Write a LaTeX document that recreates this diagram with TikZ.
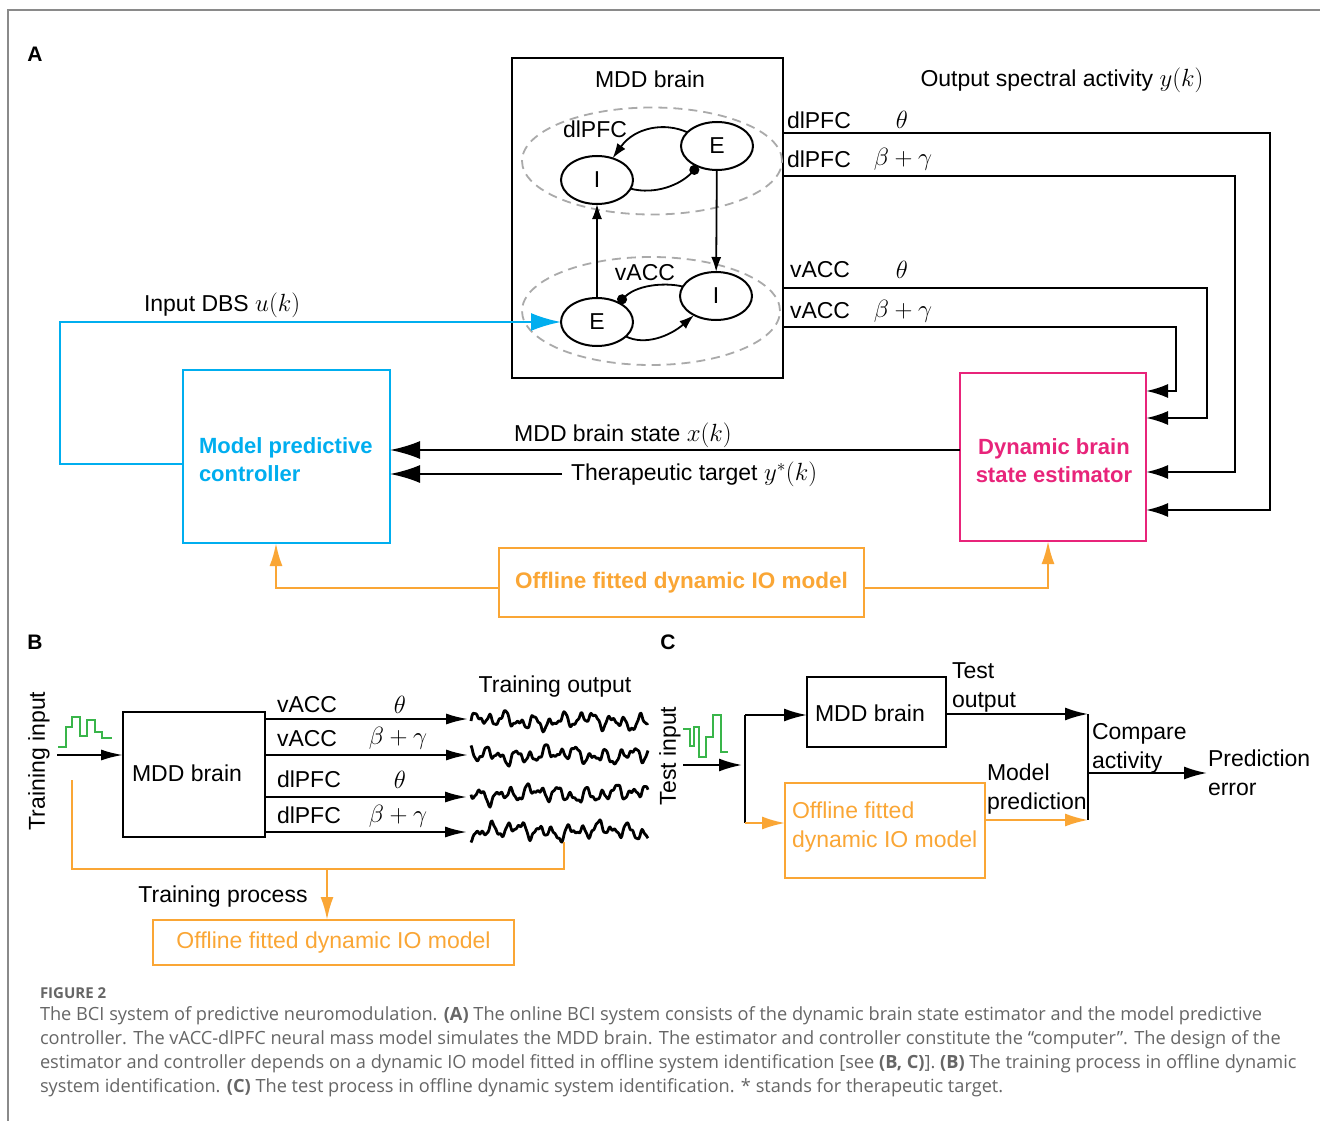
\documentclass[tikz,border=0pt]{standalone}
\usepackage[no-math]{fontspec}
\setmainfont{Liberation Sans}
\newfontfamily\capfont{Open Sans}
\usetikzlibrary{arrows.meta,shapes.geometric,calc}
\definecolor{mpcblue}{HTML}{00AEEF}
\definecolor{estpink}{HTML}{E8247A}
\definecolor{offorange}{HTML}{FAA635}
\definecolor{siggreen}{HTML}{39B54A}
\definecolor{dashgray}{HTML}{AAAAAA}
\definecolor{capgray}{HTML}{666666}
\definecolor{framegray}{HTML}{8A8A8A}
\begin{document}
\begin{tikzpicture}[x=1pt,y=-1pt,
  every node/.style={inner sep=0pt, outer sep=0pt},
  lbl/.style={font=\fontsize{23}{29}\selectfont},
  boldlbl/.style={font=\fontsize{22}{28}\selectfont\bfseries},
  panel/.style={font=\fontsize{21}{23}\selectfont\bfseries},
  blkbox/.style={draw=black, line width=2.3pt, anchor=north west},
  mpcbox/.style={draw=mpcblue, line width=2.5pt, anchor=north west},
  estbox/.style={draw=estpink, line width=2.5pt, anchor=north west},
  offbox/.style={draw=offorange, line width=2.5pt, anchor=north west},
  dashell/.style={ellipse, draw=dashgray, line width=1.8pt, dash pattern=on 9pt off 6pt},
  popell/.style={ellipse, draw=black, line width=2pt, minimum width=72pt, minimum height=48pt, font=\fontsize{23}{28}\selectfont},
  inarrow/.style={draw=black, line width=1.8pt, -{Latex[length=15pt,width=10pt]}},
  indot/.style={draw=black, line width=1.8pt, -{Circle[length=10pt]}},
  estarrow/.style={draw=black, line width=2.3pt, -{Latex[length=22pt,width=14pt]}},
  ctrlarrow/.style={draw=black, line width=2.3pt, -{Latex[length=30pt,width=18pt]}},
  dbsarrow/.style={draw=mpcblue, line width=2.5pt, -{Latex[length=30pt,width=18pt]}},
  oarrow/.style={draw=offorange, line width=2.5pt, -{Latex[length=23pt,width=13pt]}},
  oline/.style={draw=offorange, line width=2.5pt},
  barrow/.style={draw=black, line width=2pt, -{Latex[length=22pt,width=11pt]}},
  carrow/.style={draw=black, line width=2pt, -{Latex[length=23pt,width=13pt]}},
  cline/.style={draw=black, line width=2pt},
  coarrow/.style={draw=offorange, line width=2pt, -{Latex[length=23pt,width=13pt]}},
  wave/.style={draw=black, line width=2.8pt, line join=round},
  sig/.style={draw=siggreen, line width=1.6pt},
  captxt/.style={font=\capfont\fontsize{18.2}{20}\selectfont, text=capgray, anchor=west}
]
\useasboundingbox (0,0) rectangle (1320,1121);
\fill[white] (0,0) rectangle (1320,1121);
\draw[framegray, line width=1.5pt] (8,1121) -- (8,10) -- (1320,10);

% ===== Panel A =====
\node[panel] (pA) at (35,54) {A};
\node[blkbox, minimum width=271pt, minimum height=320pt] (brain) at (512,58) {};
\node[lbl] (brainlbl) at (650,79) {MDD brain};
\node[dashell, minimum width=260pt, minimum height=107pt] (dlpfc) at (652,161) {};
\node[dashell, minimum width=258pt, minimum height=108pt] (vacc) at (651,311) {};
\node[lbl] (dlpfclbl) at (595,129) {dlPFC};
\node[lbl] (vacclbl) at (645,273) {vACC};
\node[popell] (dI) at (597,180) {I};
\node[popell] (dE) at (717,146) {E};
\node[popell] (vE) at (597,322) {E};
\node[popell] (vI) at (716,296) {I};
\draw[inarrow] (dE) .. controls (665,122) and (635,127) .. (dI);
\draw[indot] (dI) .. controls (655,195) and (680,185) .. (dE);
\draw[indot] (vI) .. controls (670,283) and (640,283) .. (vE);
\draw[inarrow] (vE) .. controls (645,346) and (670,336) .. (vI);
\draw[inarrow] (vE) -- (dI);
\draw[inarrow] (dE) -- (vI);

\node[mpcbox, minimum width=207pt, minimum height=173pt] (mpc) at (183,370) {};
\node[boldlbl, text=mpcblue, anchor=west, align=left] (mpclbl) at (199,460) {Model predictive\\controller};
\node[estbox, minimum width=186pt, minimum height=168pt] (est) at (960,373) {};
\node[boldlbl, text=estpink, align=center] (estlbl) at (1054,461) {Dynamic brain\\state estimator};
\node[offbox, minimum width=365pt, minimum height=69pt, boldlbl, font=\fontsize{22.5}{28}\selectfont\bfseries, text=offorange] (off) at (499,548) {Offline fitted dynamic IO model};

% DBS input
\coordinate (bl1) at (60,464);
\coordinate (bl2) at (60,322);
\draw[dbsarrow] (mpc.west |- bl1) -- (bl1) -- (bl2) -- (vE);
\node[lbl, anchor=west] (dbslbl) at (144,305) {Input DBS $u(k)$};

% outputs
\node[lbl] (outlbl) at (1062,80) {Output spectral activity $y(k)$};
\coordinate (r1) at (1270,133); \coordinate (r1b) at (1270,510);
\coordinate (r2) at (1235,176); \coordinate (r2b) at (1235,472);
\coordinate (r3) at (1207,288); \coordinate (r3b) at (1207,418);
\coordinate (r4) at (1176,327); \coordinate (r4b) at (1176,391);
\draw[estarrow] (brain.east |- r1) -- (r1) -- (r1b) -- (est.east |- r1b);
\draw[estarrow] (brain.east |- r2) -- (r2) -- (r2b) -- (est.east |- r2b);
\draw[estarrow] (brain.east |- r3) -- (r3) -- (r3b) -- (est.east |- r3b);
\draw[estarrow] (brain.east |- r4) -- (r4) -- (r4b) -- (est.east |- r4b);
\node[lbl, anchor=west] (o1a) at (787,120) {dlPFC};
\node[lbl] (o1b) at (902,120) {$\theta$};
\node[lbl, anchor=west] (o2a) at (787,159) {dlPFC};
\node[lbl] (o2b) at (903,159) {$\beta+\gamma$};
\node[lbl, anchor=west] (o3a) at (790,270) {vACC};
\node[lbl] (o3b) at (902,270) {$\theta$};
\node[lbl, anchor=west] (o4a) at (790,311) {vACC};
\node[lbl] (o4b) at (903,311) {$\beta+\gamma$};

% state and target
\coordinate (sy) at (700,450);
\draw[ctrlarrow] (est.west |- sy) -- (mpc.east |- sy);
\node[lbl] (statelbl) at (623,435) {MDD brain state $x(k)$};
\node[lbl, anchor=west] (tt) at (571,474) {Therapeutic target $y^*(k)$};
\draw[ctrlarrow] ([xshift=-9pt]tt.west) -- (mpc.east |- tt.west);

% offline model links
\coordinate (oa) at (276,588);
\coordinate (ob) at (1048,588);
\draw[oarrow] (off.west |- oa) -- (oa) -- (oa |- mpc.south);
\draw[oarrow] (off.east |- ob) -- (ob) -- (ob |- est.south);

% ===== Panel B =====
\node[panel] (pB) at (35,642) {B};
\node[blkbox, minimum width=142pt, minimum height=125pt] (bbrain) at (123,712) {};
\node[lbl] (bbrainlbl) at (187,773) {MDD brain};
\node[lbl, rotate=90] (tinlbl) at (39,761) {Training input};
\draw[sig] (58,747) -- (66,747) -- (66,727) -- (72,727) -- (72,717) -- (80,717) -- (80,736) -- (87,736) -- (87,720) -- (95,720) -- (95,732) -- (102,732) -- (102,738) -- (112,738);
\coordinate (tin) at (57,755);
\draw[barrow] (tin) -- (bbrain.west |- tin);
\coordinate (w1) at (468,719);
\coordinate (w2) at (468,755);
\coordinate (w3) at (467,797);
\coordinate (w4) at (467,832);
\draw[barrow] (bbrain.east |- w1) -- (w1);
\draw[barrow] (bbrain.east |- w2) -- (w2);
\draw[barrow] (bbrain.east |- w3) -- (w3);
\draw[barrow] (bbrain.east |- w4) -- (w4);
\node[lbl, anchor=west] (b1a) at (277,705) {vACC};
\node[lbl] (b1b) at (400,705) {$\theta$};
\node[lbl, anchor=west] (b2a) at (277,739) {vACC};
\node[lbl] (b2b) at (398,738) {$\beta+\gamma$};
\node[lbl, anchor=west] (b3a) at (277,779) {dlPFC};
\node[lbl] (b3b) at (400,780) {$\theta$};
\node[lbl, anchor=west] (b4a) at (277,815) {dlPFC};
\node[lbl] (b4b) at (398,816) {$\beta+\gamma$};
\node[lbl] (toutlbl) at (555,687) {Training output};
\foreach \yy/\pp in {721/0, 755/95, 794/190, 831/285} {
  \draw[wave] plot[domain=0:177, samples=178] ({471+\x},{\yy - 4.6*sin(24*\x+\pp) - 3.3*sin(13*\x+2*\pp) - 2*sin(43*\x+\pp) - 1.1*sin(79*\x+\pp) - 2.5*sin(4*\x+\pp)});
}
\coordinate (ob1) at (72,780);
\coordinate (ob2) at (72,869);
\coordinate (ob3) at (564,869);
\coordinate (ob4) at (564,842);
\draw[oline] (ob1) -- (ob2) -- (ob3) -- (ob4);
\node[offbox, minimum width=361pt, minimum height=45pt, lbl, text=offorange] (boff) at (153,920) {Offline fitted dynamic IO model};
\coordinate (obm) at (327,869);
\draw[oarrow] (obm) -- (obm |- boff.north);
\node[lbl] (tproclbl) at (223,897) {Training process};

% ===== Panel C =====
\node[panel] (pC) at (668,642) {C};
\node[lbl, rotate=90] (testinlbl) at (670,756) {Test input};
\draw[sig] (683,729) -- (690,729) -- (690,746) -- (694,746) -- (694,727) -- (699,727) -- (699,757) -- (706,757) -- (706,737) -- (713,737) -- (713,715) -- (721,715) -- (721,752) -- (728,752);
\coordinate (cin) at (683,765);
\coordinate (cj) at (742,765);
\draw[carrow] (cin) -- (cj);
\node[blkbox, minimum width=139pt, minimum height=70pt] (cbrain) at (807,677) {};
\node[lbl, anchor=west] (cbrainlbl) at (815,713) {MDD brain};
\node[offbox, minimum width=200pt, minimum height=95pt] (coff) at (785,783) {};
\node[lbl, text=offorange, anchor=west, align=left] (cofflbl) at (792,827) {Offline fitted\\dynamic IO model};
\coordinate (ct) at (745,715);
\coordinate (cb) at (745,823);
\draw[cline] (ct) -- (cb);
\draw[carrow] (ct) -- (ct -| cbrain.west);
\draw[coarrow] (cb) -- (cb -| coff.west);
\coordinate (cto) at (1088,714);
\coordinate (cmo) at (1088,820);
\draw[carrow] (cbrain.east |- cto) -- (cto);
\draw[coarrow] (coff.east |- cmo) -- (cmo);
\draw[cline] (cto) -- (cmo);
\coordinate (cc) at (1088,773);
\coordinate (ce) at (1207,773);
\draw[carrow] (cc) -- (ce);
\node[lbl, anchor=west, align=left] (testoutlbl) at (952,687) {Test\\output};
\node[lbl, anchor=west, align=left] (modpredlbl) at (987,789) {Model\\prediction};
\node[lbl, anchor=west, align=left] (complbl) at (1092,748) {Compare\\activity};
\node[lbl, anchor=west, align=left] (prederrlbl) at (1208,773) {Prediction\\error};

% ===== Caption =====
\node[captxt, font=\capfont\fontsize{15}{17}\selectfont\bfseries] (figno) at (40,993) {FIGURE 2};
\node[captxt] (cap1) at (40,1016) {The BCI system of predictive neuromodulation. \textbf{(A)} The online BCI system consists of the dynamic brain state estimator and the model predictive};
\node[captxt] (cap2) at (40,1040) {controller. The vACC-dlPFC neural mass model simulates the MDD brain. The estimator and controller constitute the “computer”. The design of the};
\node[captxt] (cap3) at (40,1064) {estimator and controller depends on a dynamic IO model fitted in offline system identification [see \textbf{(B, C)}]. \textbf{(B)} The training process in offline dynamic};
\node[captxt] (cap4) at (40,1088) {system identification. \textbf{(C)} The test process in offline dynamic system identification. * stands for therapeutic target.};
\end{tikzpicture}
\end{document}
